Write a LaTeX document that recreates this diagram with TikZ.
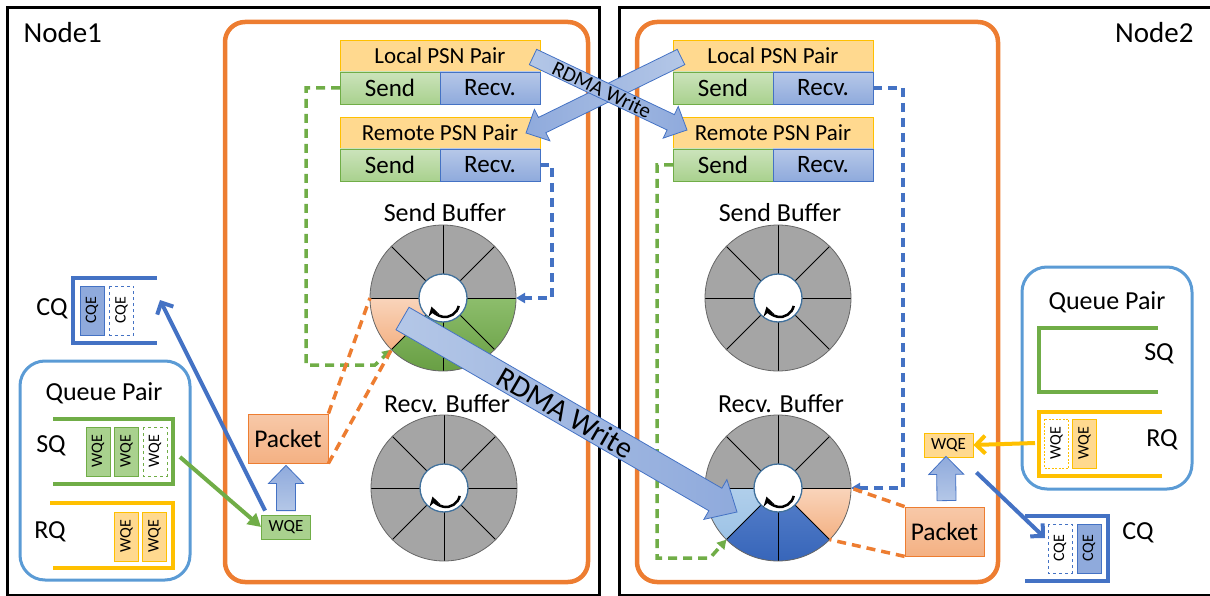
\documentclass[tikz,border=0pt]{standalone}
\usepackage{fontspec}
\setmainfont{Carlito}
\usetikzlibrary{arrows.meta,positioning,calc}

\definecolor{laranja}{HTML}{ED7D31}
\definecolor{verde}{HTML}{70AD47}
\definecolor{verdeclaro}{HTML}{A9D18E}
\definecolor{azul}{HTML}{4472C4}
\definecolor{azulclaro}{HTML}{8FAADC}
\definecolor{azulpalido}{HTML}{B4C7E7}
\definecolor{ouro}{HTML}{FFC000}
\definecolor{ouroclaro}{HTML}{FFD98F}
\definecolor{salmao}{HTML}{F4B183}
\definecolor{cinza}{HTML}{A5A5A5}
\definecolor{azulqp}{HTML}{5B9BD5}
\definecolor{azulceu}{HTML}{9DC3E6}
\definecolor{azulescuro}{HTML}{3463B8}
\definecolor{azulborda}{HTML}{41719C}

\newcommand{\tam}[1]{\fontsize{#1}{#1}\selectfont}

% divisoes, aro e seta circular de um buffer
\newcommand{\anel}[1]{%
  \foreach \ang in {0,45,...,315} \draw[line width=0.8pt] (#1) -- ++(\ang:73);
  \draw[gray!80!black, line width=0.8pt] (#1) circle (73);
  \draw[fill=white, draw=azulborda, line width=1.3pt] (#1) circle (24);
  \draw[line width=2.5pt, -{Stealth[length=9pt,width=11pt]}] ($(#1)+(15.7,-7.9)$)
    arc[start angle=-12, end angle=-165, radius=14];
}

% seta em bloco: estilo, cauda, ponta, meia largura, meia cabeca, comprimento cabeca
\newcommand{\setabloco}[6]{%
  \coordinate (sb-h) at ($(#3)!#6!(#2)$);
  \path[#1] ($(#2)!#4!90:(#3)$) -- ($(sb-h)!#4!90:(#3)$) -- ($(sb-h)!#5!90:(#3)$) -- (#3)
    -- ($(sb-h)!#5!-90:(#3)$) -- ($(sb-h)!#4!-90:(#3)$) -- ($(#2)!#4!-90:(#3)$) -- cycle;
}

\begin{document}
\begin{tikzpicture}[
    x=1pt, y=1pt, font=\tam{26},
    moldura/.style={draw=black, line width=3pt, inner sep=0pt, outer sep=0pt},
    hospede/.style={draw=laranja, line width=4.5pt, rounded corners=20pt, inner sep=0pt},
    qp/.style={draw=azulqp, line width=3pt, rounded corners=25pt, inner sep=0pt},
    psnhead/.style={
        fill=ouroclaro, draw=ouro, line width=0.8pt, minimum width=200pt,
        minimum height=32pt, inner sep=0pt, outer sep=0pt, font=\tam{23}
    },
    sendcell/.style={
        top color=verdeclaro!60!white, bottom color=verdeclaro, draw=verde,
        line width=0.8pt, minimum width=100pt, minimum height=32pt,
        inner sep=0pt, outer sep=0pt, font=\tam{25}
    },
    recvcell/.style={sendcell, top color=azulclaro!65!white, bottom color=azulclaro, draw=azul},
    wqev/.style={rotate=90, minimum width=49pt, minimum height=24pt, inner sep=0pt,
        line width=0.8pt, font=\tam{16}},
    wqepeq/.style={minimum width=49pt, minimum height=24pt, inner sep=0pt,
        line width=0.8pt, font=\tam{17}},
    pacote/.style={top color=salmao!70!white, bottom color=salmao, draw=laranja,
        line width=0.8pt, minimum height=49pt, inner sep=0pt, font=\tam{25.5}},
    colchete/.style={line width=3.5pt},
    tracejado/.style={line width=3.5pt, dash pattern=on 9pt off 6pt},
    blocoazul/.style={draw=azul, line width=0.8pt},
    setaazul/.style={draw=azul, line width=4pt, -{Straight Barb[length=9pt,width=18pt]}},
    setaouro/.style={draw=ouro, line width=4pt, -{Straight Barb[length=9pt,width=18pt]}},
    setaverde/.style={draw=verde, line width=4pt, -{Triangle[length=13pt,width=14pt]}}
]
\useasboundingbox (0,0) rectangle (1210,-596);

% Molduras
\node[moldura, minimum width=592pt, minimum height=587pt] (no1) at (303,-301.5) {};
\node[moldura, minimum width=593pt, minimum height=587pt] (no2) at (915.5,-301.5) {};
\node[anchor=base west, font=\tam{29}] (no1txt) at (20,-43) {Node1};
\node[anchor=base east, font=\tam{29}] (no2txt) at (1197,-43) {Node2};
\node[hospede, minimum width=363pt, minimum height=560pt] (hostA) at (406.5,-302) {};
\node[hospede, minimum width=361pt, minimum height=560pt] (hostB) at (817.5,-302) {};

% Pares de PSN
\node[psnhead] (lpsnA) at (440,-56) {Local PSN Pair};
\node[sendcell, anchor=north west] (lsendA) at (lpsnA.south west) {Send};
\node[recvcell, anchor=north east] (lrecvA) at (lpsnA.south east) {Recv.};
\node[psnhead] (rpsnA) at (440,-133) {Remote PSN Pair};
\node[sendcell, anchor=north west] (rsendA) at (rpsnA.south west) {Send};
\node[recvcell, anchor=north east] (rrecvA) at (rpsnA.south east) {Recv.};

\node[psnhead] (lpsnB) at (773,-56) {Local PSN Pair};
\node[sendcell, anchor=north west] (lsendB) at (lpsnB.south west) {Send};
\node[recvcell, anchor=north east] (lrecvB) at (lpsnB.south east) {Recv.};
\node[psnhead] (rpsnB) at (773,-133) {Remote PSN Pair};
\node[sendcell, anchor=north west] (rsendB) at (rpsnB.south west) {Send};
\node[recvcell, anchor=north east] (rrecvB) at (rpsnB.south east) {Recv.};

% Buffers
\coordinate (sbufA) at (443,-298);
\coordinate (rbufA) at (444,-488);
\coordinate (sbufB) at (778,-298);
\coordinate (rbufB) at (778,-488);

\fill[cinza] (sbufA) circle (73);
\shade[top color=salmao!55!white, bottom color=salmao] (sbufA) -- ++(180:73)
  arc[start angle=180, end angle=225, radius=73] -- cycle;
\shade[top color=verde!80!white, bottom color=verde!90!black] (sbufA) -- ++(225:73)
  arc[start angle=225, end angle=360, radius=73] -- cycle;
\anel{sbufA}

\fill[cinza] (rbufA) circle (73);
\anel{rbufA}

\fill[cinza] (sbufB) circle (73);
\anel{sbufB}

\fill[cinza] (rbufB) circle (73);
\shade[top color=azulceu!80!white, bottom color=azulceu] (rbufB) -- ++(180:73)
  arc[start angle=180, end angle=225, radius=73] -- cycle;
\shade[top color=azul!90!white, bottom color=azulescuro] (rbufB) -- ++(225:73)
  arc[start angle=225, end angle=315, radius=73] -- cycle;
\shade[top color=salmao!55!white, bottom color=salmao] (rbufB) -- ++(315:73)
  arc[start angle=315, end angle=360, radius=73] -- cycle;
\anel{rbufB}

\node[anchor=base] (sbufAtxt) at (445,-222) {Send Buffer};
\node[anchor=base] (rbufAtxt) at (447,-412) {Recv. Buffer};
\node[anchor=base] (sbufBtxt) at (780,-222) {Send Buffer};
\node[anchor=base] (rbufBtxt) at (781,-412) {Recv. Buffer};

% Pacotes e WQE
\node[pacote, minimum width=80pt] (packetA) at (288,-438.5) {Packet};
\node[pacote, minimum width=79pt] (packetB) at (944.5,-531.5) {Packet};
\node[wqepeq, fill=verdeclaro, draw=verde] (wqeA) at (286,-527) {WQE};
\node[wqepeq, fill=ouroclaro, draw=ouro] (wqeB) at (948.5,-445) {WQE};

% Linhas tracejadas
\draw[tracejado, verde, -{Triangle[length=9pt,width=10pt]}] (lsendA.west) -- ++(-34,0)
  |- (375,-365) -- ($(sbufA)+(225:73)$);
\draw[tracejado, azul, -{Triangle[length=9pt,width=10pt]}] (rrecvA.east) -- ++(12,0)
  |- ($(sbufA)+(0:73)$);
\draw[tracejado, laranja] (packetA.north east) -- ($(sbufA)+(180:73)$);
\draw[tracejado, laranja] (packetA.south east) -- ($(sbufA)+(225:73)$);

\draw[tracejado, azul, -{Triangle[length=9pt,width=10pt]}] (lrecvB.east) -- ++(30,0)
  |- ($(rbufB)+(0:73)$);
\draw[tracejado, verde, -{Triangle[length=9pt,width=10pt]}] (rsendB.west) -- ++(-16,0)
  |- (710,-558) -- ($(rbufB)+(225:73)$);
\draw[tracejado, laranja] (packetB.north west) -- ($(rbufB)+(0:73)$);
\draw[tracejado, laranja] (packetB.south west) -- ($(rbufB)+(315:73)$);

% Queue pairs e CQ do Node1
\node[qp, minimum width=170pt, minimum height=219pt] (qpA) at (105,-470.5) {};
\node (qpAtxt) at (104,-393) {Queue Pair};
\draw[colchete, verde] (53,-419) -- (173,-419) -- (173,-484) -- (53,-484);
\node (sqA) at (51,-446) {SQ};
\node[wqev, fill=verdeclaro, draw=verde] (sqA1) at (98,-451.5) {WQE};
\node[wqev, fill=verdeclaro, draw=verde] (sqA2) at (126.5,-451.5) {WQE};
\node[wqev, fill=white, draw=verde, dashed] (sqA3) at (155,-451.5) {WQE};
\draw[colchete, ouro] (50,-503) -- (173,-503) -- (173,-568) -- (53,-568);
\node (rqA) at (50,-532) {RQ};
\node[wqev, fill=ouroclaro, draw=ouro] (rqA1) at (126.5,-536.5) {WQE};
\node[wqev, fill=ouroclaro, draw=ouro] (rqA2) at (154.5,-536.5) {WQE};

\draw[colchete, azul] (157,-278) -- (73,-278) -- (73,-343) -- (157,-343);
\node[wqev, fill=azulclaro, draw=azul] (cqA1) at (92,-310.5) {CQE};
\node[wqev, fill=white, draw=azul, dashed] (cqA2) at (121.5,-310.5) {CQE};
\node (cqA) at (52,-309) {CQ};

% Queue pairs e CQ do Node2
\node[qp, minimum width=170pt, minimum height=222pt] (qpB) at (1107,-378) {};
\node (qpBtxt) at (1107,-302) {Queue Pair};
\draw[colchete, verde] (1158,-328) -- (1039,-328) -- (1039,-392) -- (1158,-392);
\node (sqB) at (1159,-354) {SQ};
\draw[colchete, ouro] (1162,-412) -- (1039,-412) -- (1039,-476) -- (1162,-476);
\node (rqB) at (1162,-440) {RQ};
\node[wqev, fill=white, draw=ouro, dash pattern=on 2pt off 1.5pt] (rqB1) at (1056.5,-443.5) {WQE};
\node[wqev, fill=ouroclaro, draw=ouro] (rqB2) at (1084.5,-443.5) {WQE};

\draw[colchete, azul] (1025,-516) -- (1108,-516) -- (1108,-581) -- (1025,-581);
\node[wqev, fill=white, draw=azul, dashed] (cqB1) at (1060,-548.5) {CQE};
\node[wqev, fill=azulclaro, draw=azul] (cqB2) at (1089,-548.5) {CQE};
\node (cqB) at (1138,-533) {CQ};

% Setas
\coordinate (sqAout) at (180,-457);
\coordinate (cqAin) at (160,-300);
\coordinate (rqBout) at (1035,-443);
\coordinate (cqBin) at (1045,-538);
\draw[setaverde] (sqAout) -- (wqeA.west);
\draw[setaazul] ([xshift=4pt,yshift=4pt]wqeA.north west) -- (cqAin);
\draw[setaouro] (rqBout) -- (wqeB.east);
\draw[setaazul] ([xshift=3pt,yshift=-15pt]wqeB.south east) -- (cqBin);

\coordinate (upAt) at ([yshift=4pt]wqeA.north);
\coordinate (upAp) at ([xshift=-2pt,yshift=-2pt]packetA.south);
\setabloco{blocoazul, top color=azulclaro, bottom color=azulpalido}{upAt}{upAp}{9.5pt}{17.5pt}{18pt}
\coordinate (upBt) at ([xshift=2pt,yshift=6pt]packetB.north);
\coordinate (upBp) at ([xshift=-2.5pt,yshift=1pt]wqeB.south);
\setabloco{blocoazul, top color=azulclaro, bottom color=azulpalido}{upBt}{upBp}{9.5pt}{17.5pt}{18pt}

% RDMA Write
\coordinate (w2T) at (681,-57);
\coordinate (w2P) at (526,-133);
\setabloco{blocoazul, left color=azulclaro, right color=azulpalido}{w2T}{w2P}{8.5pt}{17.5pt}{18pt}
\coordinate (w1T) at (533,-57);
\coordinate (w1P) at (687,-130);
\setabloco{blocoazul, left color=azulpalido, right color=azulclaro}{w1T}{w1P}{8.5pt}{17.5pt}{18pt}
\path (w1T) -- (sb-h) node[midway, sloped, font=\tam{21}, inner sep=0pt] (w1txt) {RDMA Write};

\coordinate (rdmaT) at (402.5,-318.5);
\coordinate (rdmaP) at (737,-512);
\setabloco{blocoazul, left color=azulpalido, right color=azulclaro}{rdmaT}{rdmaP}{13pt}{23pt}{25pt}
\path (rdmaT) -- (sb-h) node[pos=0.52, sloped, font=\tam{30}, inner sep=0pt] (rdmatxt) {RDMA Write};

\end{tikzpicture}
\end{document}
